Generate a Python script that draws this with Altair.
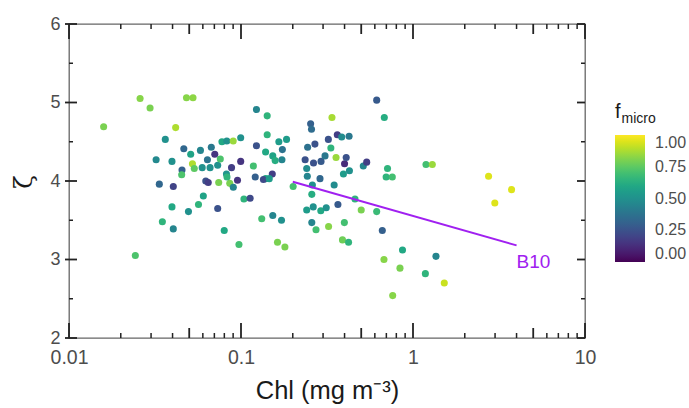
import altair as alt
import pandas as pd

# ---- data ----
chl = [0.0159, 0.0259, 0.0296, 0.0482, 0.0526, 0.0417, 0.0363, 0.0321, 0.0397, 0.0465,
       0.0510, 0.0454, 0.0452, 0.0522, 0.0535, 0.0335, 0.0404, 0.0581, 0.0672, 0.0638,
       0.0595, 0.0661, 0.0732, 0.0704, 0.0758, 0.0775, 0.0827, 0.0901, 0.0996, 0.0624,
       0.0645, 0.0742, 0.0860, 0.0902, 0.0881, 0.0823, 0.0829, 0.0954, 0.0996, 0.118,
       0.123, 0.142, 0.142, 0.123, 0.139, 0.153, 0.158, 0.166, 0.174, 0.173,
       0.184, 0.121, 0.139, 0.135, 0.152, 0.146, 0.201, 0.254, 0.257, 0.244,
       0.269, 0.236, 0.241, 0.243, 0.264, 0.292, 0.288, 0.260, 0.258, 0.322,
       0.363, 0.385, 0.425, 0.308, 0.333, 0.357, 0.338, 0.400, 0.409, 0.348,
       0.394, 0.427, 0.104, 0.113, 0.0604, 0.615, 0.681, 0.514, 0.538, 0.711,
       0.698, 0.758, 1.19, 1.295, 2.75, 3.74, 2.99, 0.615, 0.663, 0.869,
       0.678, 0.840, 1.36, 1.18, 1.52, 0.762, 0.460, 0.366, 0.500, 0.241,
       0.263, 0.291, 0.313, 0.172, 0.258, 0.273, 0.323, 0.399, 0.389, 0.422,
       0.180, 0.163, 0.0495, 0.0566, 0.0732, 0.132, 0.153, 0.0799, 0.0973, 0.0397,
       0.0349, 0.0404, 0.0243]
zeta = [4.69, 5.05, 4.93, 5.06, 5.06, 4.68, 4.53, 4.27, 4.25, 4.41,
        4.34, 4.14, 4.08, 4.22, 4.16, 3.96, 3.93, 4.39, 4.43, 4.27,
        4.17, 4.17, 4.20, 4.34, 4.28, 4.50, 4.51, 4.51, 4.55, 4.00,
        3.98, 3.98, 3.97, 3.92, 4.17, 4.09, 4.05, 4.01, 4.25, 4.19,
        4.91, 4.83, 4.59, 4.45, 4.37, 4.32, 4.26, 4.50, 4.40, 4.27,
        4.53, 4.05, 4.03, 4.02, 4.09, 4.03, 3.93, 4.73, 4.66, 4.43,
        4.47, 4.27, 4.16, 4.06, 4.23, 4.25, 4.03, 3.95, 3.83, 4.53,
        4.59, 4.56, 4.57, 4.32, 4.42, 4.30, 4.81, 4.22, 4.30, 3.95,
        4.09, 4.13, 3.77, 3.78, 3.81, 5.03, 4.81, 4.19, 4.24, 4.16,
        4.05, 4.05, 4.21, 4.21, 4.06, 3.89, 3.72, 3.61, 3.37, 3.12,
        3.00, 2.89, 3.04, 2.82, 2.70, 2.54, 3.77, 3.70, 3.63, 3.63,
        3.67, 3.62, 3.66, 3.50, 3.47, 3.38, 3.42, 3.47, 3.25, 3.22,
        3.16, 3.22, 3.61, 3.70, 3.65, 3.52, 3.56, 3.37, 3.19, 3.67,
        3.48, 3.39, 3.05]
fmicro = [0.80, 0.82, 0.80, 0.82, 0.83, 0.88, 0.50, 0.47, 0.50, 0.33,
          0.58, 0.30, 0.72, 0.88, 0.75, 0.33, 0.20, 0.45, 0.40, 0.38,
          0.50, 0.50, 0.50, 0.15, 0.72, 0.60, 0.50, 0.85, 0.50, 0.25,
          0.18, 0.80, 0.80, 0.45, 0.18, 0.52, 0.65, 0.15, 0.15, 0.70,
          0.45, 0.65, 0.65, 0.25, 0.60, 0.58, 0.62, 0.55, 0.38, 0.45,
          0.55, 0.30, 0.60, 0.22, 0.18, 0.55, 0.70, 0.30, 0.35, 0.37,
          0.25, 0.25, 0.48, 0.45, 0.25, 0.28, 0.33, 0.50, 0.62, 0.25,
          0.18, 0.48, 0.40, 0.40, 0.65, 0.85, 0.87, 0.12, 0.25, 0.48,
          0.55, 0.50, 0.65, 0.22, 0.58, 0.28, 0.62, 0.45, 0.18, 0.65,
          0.65, 0.70, 0.70, 0.85, 0.95, 0.95, 0.95, 0.68, 0.30, 0.60,
          0.82, 0.80, 0.45, 0.65, 0.92, 0.82, 0.65, 0.28, 0.80, 0.55,
          0.50, 0.60, 0.50, 0.50, 0.45, 0.70, 0.82, 0.70, 0.78, 0.65,
          0.80, 0.80, 0.50, 0.65, 0.25, 0.70, 0.45, 0.60, 0.70, 0.60,
          0.65, 0.45, 0.72]

b10_chl = [0.2, 4.0]
b10_zeta = [3.99, 3.18]
b10_label = "B10"

x_ticks = [0.01, 0.1, 1, 10]
x_fives = [0.05, 0.5, 5]
x_minor = [0.02, 0.03, 0.04, 0.06, 0.07, 0.08, 0.09,
           0.2, 0.3, 0.4, 0.6, 0.7, 0.8, 0.9,
           2, 3, 4, 6, 7, 8, 9]
y_ticks = [2, 3, 4, 5, 6]
y_minor = [2.5, 3.5, 4.5, 5.5]
legend_values = [0, 0.25, 0.5, 0.75, 1]
x_title = "Chl (mg m⁻³)"
y_title = "ζ"

W, H = 516, 314
FONT = "Liberation Sans"
TICK = "#222222"

df = pd.DataFrame({"chl": chl, "zeta": zeta, "fmicro": fmicro})
xs = alt.Scale(type="log", domain=[0.01, 10], nice=False)
ys = alt.Scale(domain=[2, 6], nice=False, zero=False)

xaxis = alt.Axis(values=x_ticks, format="~g", ticks=False, tickSize=0, domain=False,
                 grid=False, labelFontSize=19.5, labelColor="#4d4d4d", labelPadding=10.5,
                 labelFlush=False, labelOverlap=False, labelFont=FONT,
                 title=x_title, titleFont=FONT, titleFontSize=25.5,
                 titleFontWeight="normal", titleColor="#1a1a1a",
                 titleX=W / 2, titleY=60, titleBaseline="alphabetic", titleAlign="center")
yaxis = alt.Axis(values=y_ticks, format="d", ticks=False, tickSize=0, domain=False,
                 grid=False, labelFontSize=18, labelColor="#4d4d4d", labelPadding=9,
                 labelFont=FONT, labelFlush=False, labelOverlap=False, title=None)

legend = alt.Legend(title=None, orient="none", legendX=546, legendY=111,
                    direction="vertical", gradientLength=127, gradientThickness=30,
                    gradientStrokeWidth=0, values=legend_values, format=".2f",
                    labelFontSize=16, labelColor="#4d4d4d", labelFont=FONT,
                    labelOffset=10, labelBaseline="middle", labelOverlap=False, padding=0)


def X(field):
    return alt.X(field, scale=xs, axis=xaxis, title=x_title)


def Y(field):
    return alt.Y(field, scale=ys, axis=yaxis, title=None)


points = alt.Chart(df).mark_circle(size=50, opacity=1).encode(
    x=X("chl:Q"),
    y=Y("zeta:Q"),
    color=alt.Color("fmicro:Q", scale=alt.Scale(scheme="viridis", domain=[0, 1]), legend=legend),
)

layers = [points]


def xrule(vals, y0, y1, width=1.8):
    d = pd.DataFrame({"chl": vals})
    return alt.Chart(d).mark_rule(color=TICK, strokeWidth=width).encode(
        x=X("chl:Q"), y=alt.value(y0), y2=alt.value(y1))


def yrule(vals, x0, x1, width=1.8):
    d = pd.DataFrame({"zeta": vals})
    return alt.Chart(d).mark_rule(color=TICK, strokeWidth=width).encode(
        y=Y("zeta:Q"), x=alt.value(x0), x2=alt.value(x1))


# bottom and top log ticks (inward)
layers += [xrule(x_ticks, H, H - 15), xrule(x_fives, H, H - 10), xrule(x_minor, H, H - 5, 1.5),
           xrule(x_ticks, 0, 15), xrule(x_fives, 0, 10), xrule(x_minor, 0, 5, 1.5)]
# left and right ticks
layers += [yrule(y_ticks, -4, 8), yrule(y_minor, 0, 4, 1.5),
           yrule(y_ticks, W - 8, W), yrule(y_minor, W - 4, W, 1.5)]

line_df = pd.DataFrame({"chl": b10_chl, "zeta": b10_zeta})
b10 = alt.Chart(line_df).mark_line(color="#A020F0", strokeWidth=2).encode(
    x=X("chl:Q"), y=Y("zeta:Q"))
lab_df = pd.DataFrame({"chl": [b10_chl[1]], "zeta": [2.97], "t": [b10_label]})
b10_text = alt.Chart(lab_df).mark_text(color="#A020F0", fontSize=19, font=FONT,
                                       align="left", baseline="middle").encode(
    x=X("chl:Q"), y=Y("zeta:Q"), text="t:N")
layers += [b10, b10_text]

# rotated y title (rotated a quarter turn counter-clockwise)
ytitle = alt.Chart(pd.DataFrame({"t": [y_title]})).mark_text(
    fontSize=25, font="DejaVu Serif", color="#1a1a1a", angle=270, align="center",
    baseline="middle").encode(
    text="t:N", x=alt.value(-45), y=alt.value(H / 2 + 1))
layers.append(ytitle)

# legend title f_micro
t1 = alt.Chart(pd.DataFrame({"t": ["f"]})).mark_text(
    fontSize=20, font=FONT, color="#1a1a1a", align="left", baseline="alphabetic").encode(
    text="t:N", x=alt.value(546), y=alt.value(94))
t2 = alt.Chart(pd.DataFrame({"t": ["micro"]})).mark_text(
    fontSize=14, font=FONT, color="#1a1a1a", align="left", baseline="alphabetic").encode(
    text="t:N", x=alt.value(552.5), y=alt.value(98.5))
layers += [t1, t2]

# white ticks on colour bar
for v in legend_values[1:-1]:
    yy = 111 + 127 * (1 - v)
    for xa, xb in [(546, 551), (571, 576)]:
        layers.append(alt.Chart(pd.DataFrame({"v": [v]})).mark_rule(color="white", strokeWidth=1).encode(
            x=alt.value(xa), x2=alt.value(xb), y=alt.value(yy)))

chart = alt.layer(*layers).properties(
    width=W, height=H,
    autosize=alt.AutoSizeParams(type="none"),
    padding={"left": 69, "top": 24, "right": 689 - 69 - W, "bottom": 408 - 24 - H},
    background="white",
).configure_view(stroke="#666666", strokeWidth=1.3)

chart.save("out.html", embed_options={"renderer": "svg", "actions": False})
